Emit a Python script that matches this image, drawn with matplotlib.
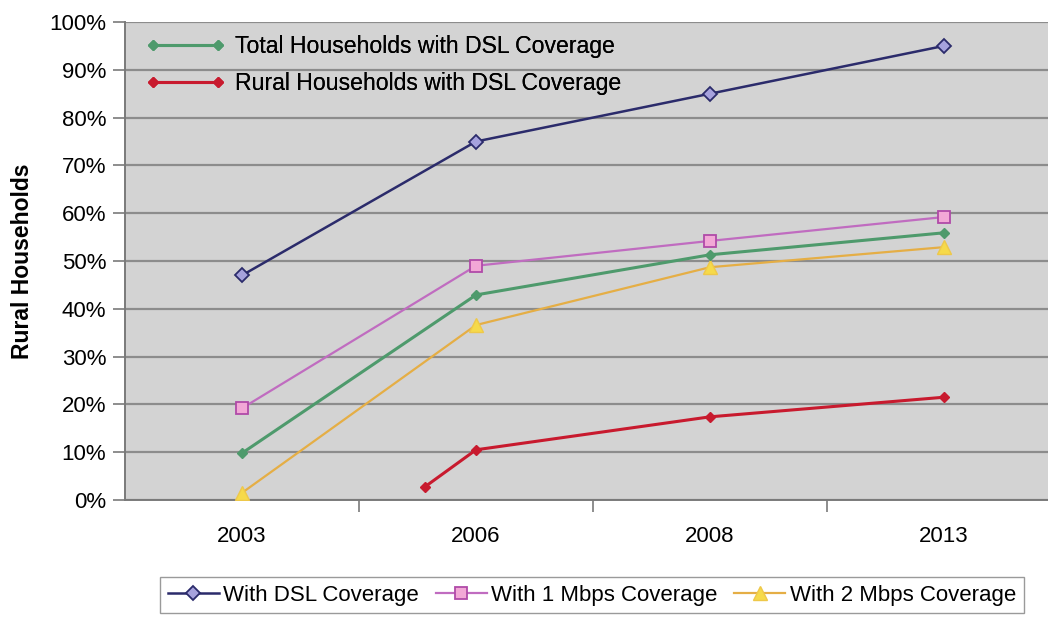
import matplotlib
matplotlib.use("Agg")
import matplotlib.pyplot as plt
import numpy as np
from matplotlib.ticker import PercentFormatter

plt.rcParams["font.family"] = ["Liberation Sans", "DejaVu Sans"]

# Survey years on the category axis.
years = [2003, 2006, 2008, 2013]

# Share of rural households (%) by coverage type.
dsl_coverage = [47, 75, 85, 95]
mbps1_coverage = [19.2, 49, 54.2, 59.2]
mbps2_coverage = [1.5, 36.6, 48.7, 52.9]

# Overall series drawn on the same axes.
total_dsl = [9.8, 42.9, 51.3, 55.9]
rural_dsl_years = [2005.34, 2006, 2008, 2013]
rural_dsl = [2.7, 10.5, 17.4, 21.5]

y_ticks = list(range(0, 101, 10))

BG = "#d3d3d3"
GRID = "#8c8c8c"
FS = 16

fig = plt.figure(figsize=(10.48, 6.18), dpi=100)
ax = fig.add_axes([125 / 1048, 118 / 618, 936 / 1048, 478 / 618])
ax.set_facecolor(BG)

pos = np.arange(len(years))
rural_pos = np.interp(rural_dsl_years, years, pos)

h_dsl, = ax.plot(pos, dsl_coverage, color="#2b2b6b", lw=1.8, marker="D",
                 ms=7.5, mfc="#a6a2dd", mec="#2b2b6b", mew=1.3,
                 label="With DSL Coverage", zorder=5)
h_m1, = ax.plot(pos, mbps1_coverage, color="#c06cc0", lw=1.6, marker="s",
                ms=8.5, mfc="#f2a8d6", mec="#b04aa8", mew=1.3,
                label="With 1 Mbps Coverage", zorder=5)
h_m2, = ax.plot(pos, mbps2_coverage, color="#e5ae45", lw=1.6, marker="^",
                ms=9.5, mfc="#f6da4a", mec="#eec84a", mew=1.0,
                label="With 2 Mbps Coverage", zorder=5)
h_tot, = ax.plot(pos, total_dsl, color="#4e9a6c", lw=2.2, marker="D",
                 ms=5, mfc="#4e9a6c", mec="#4e9a6c",
                 label="Total Households with DSL Coverage", zorder=5)
h_rur, = ax.plot(rural_pos, rural_dsl, color="#c81a2e", lw=2.2, marker="D",
                 ms=5, mfc="#c81a2e", mec="#c81a2e",
                 label="Rural Households with DSL Coverage", zorder=5)

ax.set_xlim(-0.5, len(years) - 0.5)
ax.set_ylim(0, 100)
ax.set_xticks(pos)
ax.set_xticklabels([str(y) for y in years], fontsize=FS)
ax.set_xticks(pos[:-1] + 0.5, minor=True)
ax.tick_params(axis="x", which="major", length=0, pad=19)
ax.tick_params(axis="x", which="minor", length=8.5, color="#7a7a7a", width=1.2)
ax.set_yticks(y_ticks)
ax.yaxis.set_major_formatter(PercentFormatter(decimals=0))
ax.tick_params(axis="y", labelsize=FS, length=8.5, color="#7a7a7a", width=1.2, pad=5)

ax.grid(axis="y", color=GRID, lw=1.6)
ax.set_axisbelow(True)
for side in ("top", "right"):
    ax.spines[side].set_visible(False)
for side in ("left", "bottom"):
    ax.spines[side].set_color("#7a7a7a")
    ax.spines[side].set_linewidth(1.4)

ax.set_ylabel("Rural Households", fontsize=16.5, fontweight="bold", labelpad=11)

inner = ax.legend(handles=[h_tot, h_rur], loc="upper left",
                  bbox_to_anchor=(0.004, 1.008), frameon=False, fontsize=16.6,
                  numpoints=2, handlelength=3.4, handletextpad=0.45,
                  labelspacing=0.6, borderaxespad=0.35)
ax.add_artist(inner)

fig.legend(handles=[h_dsl, h_m1, h_m2], loc="center",
           bbox_to_anchor=(592 / 1048, 1 - 595 / 618), ncol=3,
           fontsize=FS, numpoints=1, handlelength=2.3, handletextpad=0.2,
           columnspacing=0.75, fancybox=False, edgecolor="#9a9a9a",
           framealpha=1, borderpad=0.35)

fig.savefig("out.png", dpi=100)
